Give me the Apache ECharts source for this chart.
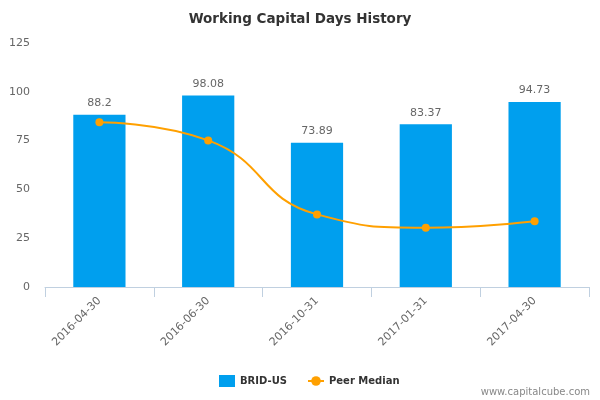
<!DOCTYPE html>
<html>
<head>
<meta charset="utf-8">
<script src="https://cdn.jsdelivr.net/npm/echarts@6/dist/echarts.min.js"></script>
<style>html,body{margin:0;padding:0;background:#fff}#c{width:600px;height:400px}</style>
</head>
<body>
<div id="c"></div>
<script>
var categories = ['2016-04-30', '2016-06-30', '2016-10-31', '2017-01-31', '2017-04-30'];
var bridValues = [88.2, 98.08, 73.89, 83.37, 94.73];
var peerMedian = [84.4, 75.1, 37.2, 30.4, 33.7];
var yTicks = [0, 25, 50, 75, 100, 125];

var chart = echarts.init(document.getElementById('c'));
chart.setOption({
  animation: false,
  backgroundColor: '#fff',
  textStyle: { fontFamily: 'DejaVu Sans' },
  title: {
    text: 'Working Capital Days History',
    left: 'center', top: 7,
    textStyle: { fontSize: 13.5, fontWeight: 'bold', color: '#333', fontFamily: 'DejaVu Sans' }
  },
  grid: { left: 45, right: 11, top: 43, bottom: 113, containLabel: false },
  legend: {
    bottom: 8, left: 214, itemGap: 20, itemWidth: 16, itemHeight: 12,
    textStyle: { fontSize: 10, fontWeight: 'bold', color: '#333' },
    data: [
      { name: 'BRID-US', icon: 'rect' },
      { name: 'Peer Median' }
    ]
  },
  graphic: [{
    type: 'text', right: 10, bottom: 3,
    style: { text: 'www.capitalcube.com', fill: '#888', fontSize: 10, fontFamily: 'DejaVu Sans' }
  }],
  xAxis: {
    type: 'category', data: categories,
    axisLine: { lineStyle: { color: '#c0d0e0' } },
    axisTick: { show: true, length: 10, lineStyle: { color: '#c0d0e0' } },
    axisLabel: { rotate: 45, color: '#666', fontSize: 11, margin: 12 }
  },
  yAxis: {
    type: 'value', min: yTicks[0], max: yTicks[yTicks.length - 1], interval: 25,
    axisLine: { show: false }, axisTick: { show: false }, splitLine: { show: false },
    axisLabel: { color: '#666', fontSize: 11, margin: 15 }
  },
  series: [
    {
      name: 'BRID-US', type: 'bar', data: bridValues, barWidth: '48%',
      itemStyle: { color: '#009fee' },
      label: { show: true, position: 'top', color: '#666', fontSize: 11, distance: 6 }
    },
    {
      name: 'Peer Median', type: 'line', data: peerMedian, smooth: 0.5,
      symbol: 'circle', symbolSize: 8,
      itemStyle: { color: '#ffa000' },
      lineStyle: { color: '#ffa000', width: 2 }
    }
  ]
});
</script>
</body>
</html>
